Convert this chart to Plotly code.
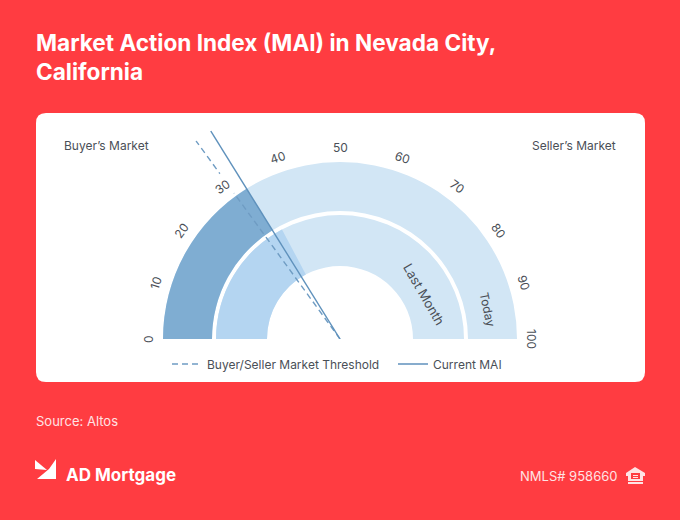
import math
import plotly.graph_objects as go

W, H = 680, 520
RED = "#FF3C41"
FONT = "Inter"
TEXT = "#4A4F57"

scale_ticks = [0, 10, 20, 30, 40, 50, 60, 70, 80, 90, 100]
scale_min = 0
scale_max = 100
threshold_value = 30
current_mai = 32.3
last_month_mai = 34.5
legend_names = ["Buyer/Seller Market Threshold", "Current MAI"]

CX, CY = 340, 339
R_MAX = 245


def th(v):
    return v * 1.8


def px(x):
    return x / W


def py(y):
    return 1 - y / H


def sector(name_base, r0, r1, v0, v1, color):
    return go.Barpolar(
        r=[r1 - r0], base=[r0], theta=[th((v0 + v1) / 2)], width=[th(v1 - v0)],
        marker=dict(color=color, line=dict(width=0)), showlegend=False, hoverinfo="skip", name=name_base,
    )


fig = go.Figure()
fig.add_trace(sector("today bg", 128, 177, scale_min, scale_max, "#D2E6F5"))
fig.add_trace(sector("today", 128, 177, scale_min, current_mai, "#7FADD2"))
fig.add_trace(sector("last bg", 73, 124, scale_min, scale_max, "#D2E6F5"))
fig.add_trace(sector("last", 73, 124, scale_min, last_month_mai, "#B4D5F1"))
fig.add_trace(go.Scatterpolar(
    r=[0, R_MAX], theta=[th(threshold_value)] * 2, mode="lines", name=legend_names[0],
    line=dict(color="#6F9CC3", width=1.4, dash="6px,4px"), hoverinfo="skip",
))
fig.add_trace(go.Scatterpolar(
    r=[0, R_MAX], theta=[th(current_mai)] * 2, mode="lines", name=legend_names[1],
    line=dict(color="#5F91BC", width=1.4), hoverinfo="skip",
))

annotations = []


def note(x, y, text, size=12, color=TEXT, angle=0, anchor="center", weight=None, bg=None, pad=1):
    annotations.append(dict(
        x=px(x), y=py(y), xref="paper", yref="paper", text=text, showarrow=False, textangle=angle,
        xanchor=anchor, yanchor="middle", bgcolor=bg, borderpad=pad,
        font=dict(family=FONT, size=size, color=color, weight=weight),
    ))


for t in scale_ticks:
    deg = th(t)
    a = math.radians(deg - 1.7 * math.sin(math.radians(2 * deg)))
    note(CX - 192 * math.cos(a), CY - 192 * math.sin(a), str(t), angle=deg - 90, bg="white", pad=4)

note(62, 145, "Buyer’s Market", anchor="left")
note(618, 145, "Seller’s Market", anchor="right")
note(424, 294, "Last Month", angle=60, size=13)
note(488, 309, "Today", angle=78)
note(34, 421, "Source: Altos", size=13, color="#FFE3E4", anchor="left")
note(64, 475, "AD Mortgage", size=17, color="white", anchor="left", weight=700)
note(619, 476, "NMLS# 958660", size=13, color="#FFE3E4", anchor="right")


def rrect(x0, y0, x1, y1, r):
    X = lambda v: px(v)
    Y = lambda v: py(v)
    return (f"M {X(x0+r)} {Y(y0)} L {X(x1-r)} {Y(y0)} Q {X(x1)} {Y(y0)} {X(x1)} {Y(y0+r)} "
            f"L {X(x1)} {Y(y1-r)} Q {X(x1)} {Y(y1)} {X(x1-r)} {Y(y1)} "
            f"L {X(x0+r)} {Y(y1)} Q {X(x0)} {Y(y1)} {X(x0)} {Y(y1-r)} "
            f"L {X(x0)} {Y(y0+r)} Q {X(x0)} {Y(y0)} {X(x0+r)} {Y(y0)} Z")


def poly(points):
    return "M " + " L ".join(f"{px(x)} {py(y)}" for x, y in points) + " Z"


def shape(path, color="white", opacity=1):
    return dict(type="path", xref="paper", yref="paper", path=path, fillcolor=color,
                line=dict(width=0), layer="below", opacity=opacity)


shapes = [
    shape(rrect(36, 113, 645, 382, 10)),
    shape(poly([(35, 460), (47, 470), (35, 469)])),
    shape(poly([(56, 459), (56, 479), (37, 479), (49, 469)])),
    shape(poly([(635, 467), (645, 473), (645, 476), (643, 476), (643, 481), (628, 481), (628, 476), (626, 476), (626, 473)]), "#FFE3E4"),
    shape(poly([(631, 473), (640, 473), (640, 479), (631, 479)]), RED),
    shape(poly([(633, 475), (638, 475), (638, 476), (633, 476)]), "#FFE3E4"),
    shape(poly([(633, 477), (638, 477), (638, 478), (633, 478)]), "#FFE3E4"),
    shape(poly([(628, 482), (643, 482), (643, 484), (628, 484)]), "#FFE3E4"),
]

fig.update_layout(
    width=W, height=H, autosize=False,
    margin=dict(l=0, r=0, t=0, b=0),
    paper_bgcolor=RED, plot_bgcolor="rgba(0,0,0,0)",
    title=dict(text="Market Action Index (MAI) in Nevada City,<br>California", x=36 / W, xanchor="left",
               y=py(50.5), yanchor="middle", font=dict(family=FONT, size=22.6, color="white", weight=700)),
    polar=dict(
        domain=dict(x=[px(CX - R_MAX), px(CX + R_MAX)], y=[py(CY), py(CY - R_MAX)]),
        sector=[0, 180], bgcolor="rgba(0,0,0,0)", barmode="overlay", gridshape="circular",
        radialaxis=dict(visible=False, range=[0, R_MAX]),
        angularaxis=dict(visible=False, rotation=180, direction="clockwise", thetaunit="degrees"),
    ),
    legend=dict(orientation="h", x=px(167), xanchor="left", y=py(364), yanchor="middle",
                bgcolor="rgba(0,0,0,0)", font=dict(family=FONT, size=12, color=TEXT),
                itemwidth=30, entrywidth=181, entrywidthmode="pixels"),
    annotations=annotations, shapes=shapes,
)

fig.write_html("out.html", config={"displayModeBar": False},
               post_script="document.body.style.margin='0';document.documentElement.style.overflow='hidden';")
